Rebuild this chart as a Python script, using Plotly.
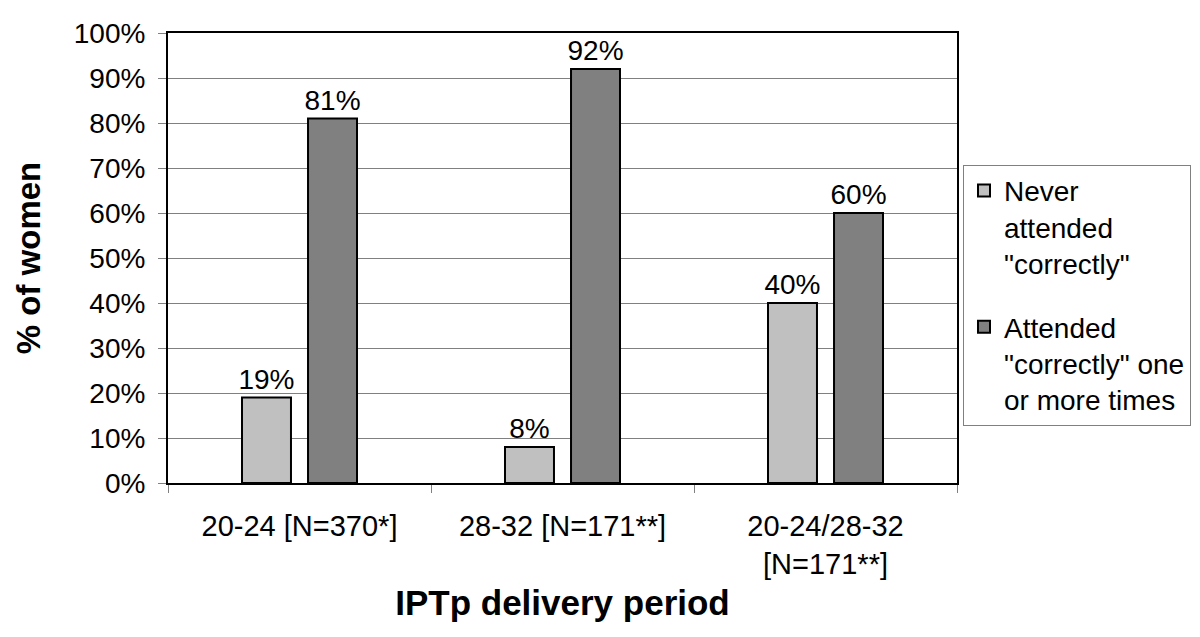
import plotly.graph_objects as go

# IPTp delivery periods
categories = ["20-24 [N=370*]", "28-32 [N=171**]", "20-24/28-32<br>[N=171**]"]
never_correct = [19, 8, 40]
attended_correct = [81, 92, 60]
y_ticks = list(range(0, 101, 10))
y_tick_labels = [f"{v}%" for v in y_ticks]

FONT = "Liberation Sans, Arial, sans-serif"

fig = go.Figure()

fig.add_trace(go.Bar(
    x=categories, y=never_correct,
    name='Never<br>attended<br>"correctly"',
    legendgroup="never",
    marker=dict(color="#c0c0c0", line=dict(color="black", width=2)),
    text=[f"{v}%" for v in never_correct],
    textposition="outside", constraintext="none",
    textfont=dict(size=28, color="black", family=FONT),
    cliponaxis=False,
))
fig.add_trace(go.Bar(
    x=categories, y=attended_correct,
    name='Attended<br>"correctly" one<br>or more times',
    legendgroup="attended",
    marker=dict(color="#808080", line=dict(color="black", width=2)),
    text=[f"{v}%" for v in attended_correct],
    textposition="outside", constraintext="none",
    textfont=dict(size=28, color="black", family=FONT),
    cliponaxis=False,
))

# page body adds ~8px offset, so the figure is slightly smaller than the window
fig.update_layout(
    width=1192, height=629,
    margin=dict(l=160, r=243, t=25, b=154, autoexpand=False),
    paper_bgcolor="white", plot_bgcolor="white",
    barmode="group", bargap=0.498, bargroupgap=0.258,
    font=dict(family=FONT, size=28, color="black"),
    showlegend=True,
    legend=dict(
        x=1.0076, y=0.707, xanchor="left", yanchor="top",
        bordercolor="#808080", borderwidth=1,
        font=dict(size=28, family=FONT),
        traceorder="grouped", tracegroupgap=24,
        valign="top", itemwidth=30,
    ),
)

fig.update_xaxes(
    type="category", tickson="boundaries",
    ticks="outside", ticklen=8, tickcolor="#808080",
    showline=True, linecolor="black", linewidth=2, mirror=True,
    showgrid=False,
    tickfont=dict(size=29), ticklabelstandoff=16,
    title=dict(text="<b>IPTp delivery period</b>", font=dict(size=35), standoff=12),
)
fig.update_yaxes(
    range=[0, 100], tickvals=y_ticks, ticktext=y_tick_labels,
    ticks="outside", ticklen=8, tickcolor="#808080",
    showline=True, linecolor="black", linewidth=2, mirror=True,
    showgrid=True, gridcolor="#808080", gridwidth=1,
    zeroline=False,
    tickfont=dict(size=28), ticklabelstandoff=7,
    title=dict(text="<b>% of women</b>", font=dict(size=33), standoff=23),
)

fig.write_html("out.html")
